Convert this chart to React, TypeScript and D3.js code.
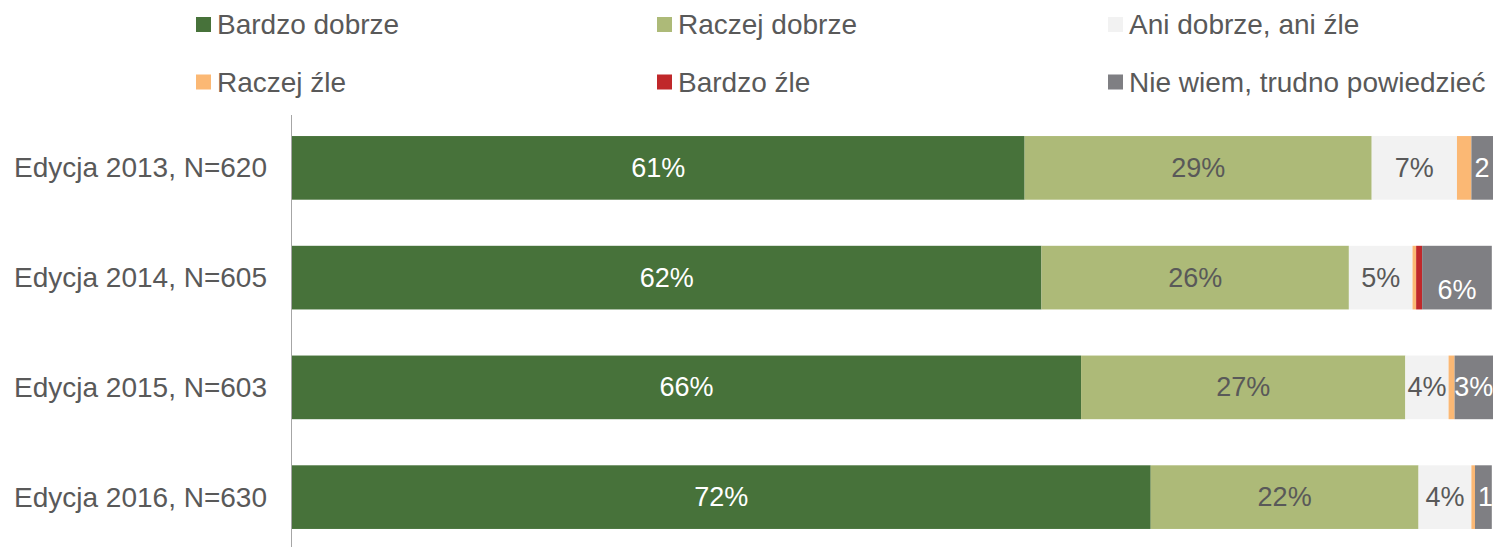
import React from "react";
import * as d3 from "d3";

const categories = ["Edycja 2013, N=620", "Edycja 2014, N=605", "Edycja 2015, N=603", "Edycja 2016, N=630"];
const seriesNames = ["Bardzo dobrze", "Raczej dobrze", "Ani dobrze, ani źle", "Raczej źle", "Bardzo źle", "Nie wiem, trudno powiedzieć"];
const bardzoDobrze = [61.0, 62.4, 65.7, 71.5];
const raczejDobrze = [28.9, 25.6, 27.0, 22.3];
const aniDobrze = [7.1, 5.3, 3.6, 4.4];
const raczejZle = [1.2, 0.3, 0.5, 0.3];
const bardzoZle = [0.0, 0.5, 0.0, 0.0];
const nieWiem = [1.8, 5.8, 3.2, 1.4];

const colors = ["#47723a", "#adba78", "#f2f2f2", "#fbb874", "#c0282a", "#7f7f83"];
const labelColors = ["#ffffff", "#595959", "#595959", "#595959", "#595959", "#ffffff"];
const showLabel = [true, true, true, false, false, true];

const W = 1493;
const H = 547;
const FONT = "'Liberation Sans', Arial, sans-serif";
const FS = 27;
const FS_BIG = 28;

function textWidth(s: string, fs: number): number {
  const canvas = document.createElement("canvas");
  const ctx = canvas.getContext("2d")!;
  ctx.font = `${fs}px ${FONT}`;
  return ctx.measureText(s).width;
}

export default function App() {
  const values = [bardzoDobrze, raczejDobrze, aniDobrze, raczejZle, bardzoZle, nieWiem];
  const x = d3.scaleLinear().domain([0, 100]).range([292, 1493]);
  const y = d3.scaleBand<string>().domain(categories).range([113, 552]).paddingInner(0.42).paddingOuter(0.21);
  const legendCols = [196, 657, 1108];
  const legendRows = [24.5, 82];

  const segs: any[] = [];
  categories.forEach((c, ci) => {
    let acc = 0;
    values.forEach((arr, si) => {
      const v = arr[ci];
      segs.push({ c, ci, si, x0: acc, x1: acc + v, v });
      acc += v;
    });
  });

  return (
    <svg width={W} height={H} style={{ position: "absolute", left: 0, top: 0, background: "#fff" }} fontFamily={FONT}>
      {seriesNames.map((n, i) => {
        const col = i % 3;
        const row = Math.floor(i / 3);
        const lx = legendCols[col];
        const ly = legendRows[row];
        return (
          <g key={n}>
            <rect x={lx} y={ly - 7.5} width={15} height={15} fill={colors[i]} />
            <text x={lx + 21} y={ly} dominantBaseline="central" fontSize={FS_BIG} fill="#595959">{n}</text>
          </g>
        );
      })}
      {categories.map((c) => (
        <text key={c} x={267} y={(y(c) as number) + y.bandwidth() / 2} textAnchor="end" dominantBaseline="central" fontSize={FS_BIG} fill="#595959">{c}</text>
      ))}
      {segs.map((s) => (
        <rect key={`${s.ci}-${s.si}`} x={x(s.x0)} y={y(s.c)} width={Math.max(0, x(s.x1) - x(s.x0))} height={y.bandwidth()} fill={colors[s.si]} />
      ))}
      {segs.filter((s) => showLabel[s.si] && s.v > 0).map((s) => {
        const full = `${Math.round(s.v)}%`;
        const w = x(s.x1) - x(s.x0);
        const fits = textWidth(full, FS) <= w + 3;
        const label = fits ? full : `${Math.round(s.v)}`;
        const cx = fits ? (x(s.x0) + x(s.x1)) / 2 : x(s.x0) + 3;
        const shift = s.ci === 1 && s.si === 5 ? 12 : 0;
        return (
          <text key={`l-${s.ci}-${s.si}`} x={cx} y={(y(s.c) as number) + y.bandwidth() / 2 + shift} textAnchor={fits ? "middle" : "start"} dominantBaseline="central" fontSize={FS} fill={labelColors[s.si]}>{label}</text>
        );
      })}
      <line x1={291.5} x2={291.5} y1={115} y2={547} stroke="#a6a6a6" strokeWidth={1} />
    </svg>
  );
}
